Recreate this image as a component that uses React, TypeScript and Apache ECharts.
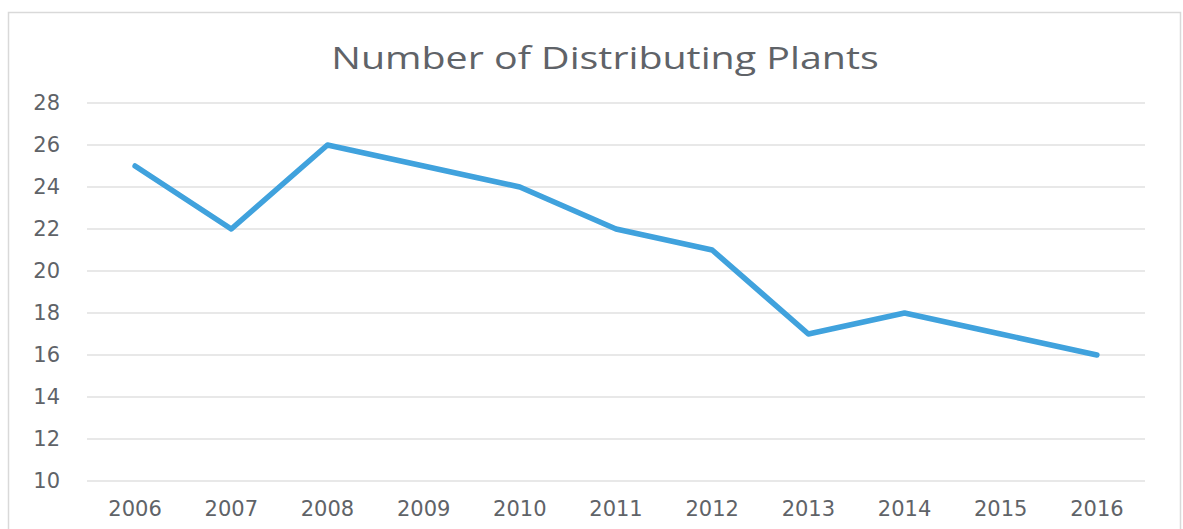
import React, { useEffect, useRef } from "react";
import * as echarts from "echarts";

const years = ["2006", "2007", "2008", "2009", "2010", "2011", "2012", "2013", "2014", "2015", "2016"];
const plants = [25, 22, 26, 25, 24, 22, 21, 17, 18, 17, 16];
const yMin = 10;
const yMax = 28;
const yStep = 2;
const titleText = "Number of Distributing Plants";

export default function App() {
  const ref = useRef<HTMLDivElement>(null);
  useEffect(() => {
    if (!ref.current) return;
    const chart = echarts.init(ref.current, null, { renderer: "svg" });
    const labelFont = "'DejaVu Sans', sans-serif";
    chart.setOption({
      animation: false,
      backgroundColor: "#ffffff",
      graphic: [
        {
          type: "rect",
          shape: { x: 8.5, y: 12.5, width: 1172, height: 540 },
          style: { fill: "none", stroke: "#d9d9d9", lineWidth: 1.5 },
          silent: true,
        },
        {
          type: "text",
          x: 605,
          y: 57,
          scaleX: 1.27,
          style: {
            text: titleText,
            fontFamily: "'Open Sans', sans-serif",
            fontSize: 31,
            fill: "#5f6368",
            textAlign: "center",
            textVerticalAlign: "middle",
          },
          silent: true,
        },
      ],
      grid: { left: 87, right: 38, top: 103, bottom: 48 },
      xAxis: {
        type: "category",
        data: years,
        boundaryGap: true,
        axisLine: { show: false },
        axisTick: { show: false },
        axisLabel: { fontFamily: labelFont, fontSize: 21, color: "#5f6368", margin: 17 },
      },
      yAxis: {
        type: "value",
        min: yMin,
        max: yMax,
        interval: yStep,
        axisLine: { show: false },
        axisTick: { show: false },
        axisLabel: { fontFamily: labelFont, fontSize: 21, color: "#5f6368", margin: 27 },
        splitLine: { lineStyle: { color: "#e0e0e0", width: 1.5 } },
      },
      series: [
        {
          type: "line",
          data: plants,
          symbol: "none",
          lineStyle: { color: "#40a2dd", width: 5.5, join: "round", cap: "round" },
        },
      ],
    });
    return () => chart.dispose();
  }, []);
  return <div ref={ref} style={{ position: "absolute", left: 0, top: 0, width: 1183, height: 529 }} />;
}
